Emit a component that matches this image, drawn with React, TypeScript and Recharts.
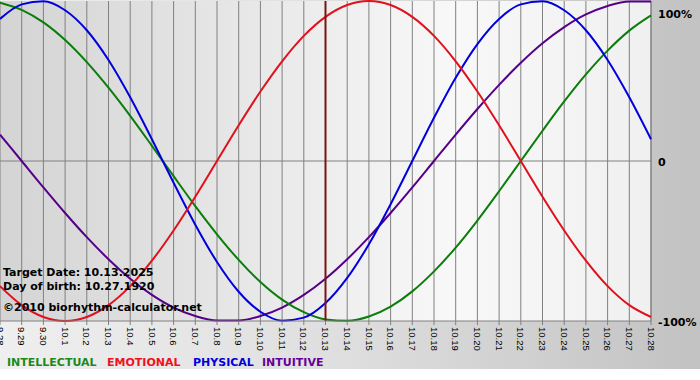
import { LineChart, Line, XAxis, YAxis, CartesianGrid, ReferenceLine } from "recharts";

const days = [
  "9.28", "9.29", "9.30", "10.1", "10.2", "10.3", "10.4", "10.5", "10.6", "10.7", "10.8",
  "10.9", "10.10", "10.11", "10.12", "10.13", "10.14", "10.15", "10.16", "10.17", "10.18",
  "10.19", "10.20", "10.21", "10.22", "10.23", "10.24", "10.25", "10.26", "10.27", "10.28",
];

const physical = [
  0.888, 0.979, 0.998, 0.942, 0.817, 0.631, 0.398, 0.136, -0.136, -0.398, -0.631,
  -0.817, -0.942, -0.998, -0.979, -0.888, -0.731, -0.52, -0.27, 0, 0.27,
  0.52, 0.731, 0.888, 0.979, 0.998, 0.942, 0.817, 0.631, 0.398, 0.136,
];

const emotional = [
  -0.782, -0.901, -0.975, -1, -0.975, -0.901, -0.782, -0.623, -0.434, -0.223, 0,
  0.223, 0.434, 0.623, 0.782, 0.901, 0.975, 1, 0.975, 0.901, 0.782,
  0.623, 0.434, 0.223, 0, -0.223, -0.434, -0.623, -0.782, -0.901, -0.975,
];

const intellectual = [
  0.99, 0.945, 0.866, 0.756, 0.618, 0.458, 0.282, 0.095, -0.095, -0.282, -0.458,
  -0.618, -0.756, -0.866, -0.945, -0.99, -0.999, -0.972, -0.91, -0.815, -0.69,
  -0.541, -0.372, -0.189, 0, 0.189, 0.372, 0.541, 0.69, 0.815, 0.91,
];

const intuitive = [
  0.165, 0, -0.165, -0.325, -0.476, -0.614, -0.736, -0.837, -0.916, -0.969, -0.997,
  -0.997, -0.969, -0.916, -0.837, -0.736, -0.614, -0.476, -0.325, -0.165, 0,
  0.165, 0.325, 0.476, 0.614, 0.736, 0.837, 0.916, 0.969, 0.997, 0.997,
];

const yTicks = [-1, 0, 1];
const targetDay = "10.13";

const data = days.map((day, i) => ({
  day,
  intellectual: intellectual[i],
  emotional: emotional[i],
  physical: physical[i],
  intuitive: intuitive[i],
}));

const FONT = "'DejaVu Sans', Verdana, sans-serif";

const DayTick = ({ x, y, payload }: any) => (
  <text
    transform={`translate(${x},${y}) rotate(90)`}
    textAnchor="start"
    dy="0.35em"
    fontFamily="'Liberation Sans', Arial, sans-serif"
    fontSize={9.5}
    fill="#000"
  >
    {payload.value}
  </text>
);

const PctTick = ({ x, y, payload }: any) => {
  const v = payload.value;
  const label = v === 0 ? "0" : `${v * 100}%`;
  const dy = v === 1 ? 9 : 5;
  return (
    <text x={x} y={y + dy} textAnchor="start" fontFamily={FONT} fontWeight="bold" fontSize={11} fill="#000">
      {label}
    </text>
  );
};

export default function App() {
  return (
    <div
      style={{
        position: "relative",
        width: 700,
        height: 380,
        background: "linear-gradient(to bottom, transparent 369px, #fff 369px), linear-gradient(to right, #efefef 0%, #dedede 50%, #c2c2c2 100%)",
      }}
    >
      <style>{"body{margin:0}"}</style>
      <LineChart width={700} height={380} data={data} margin={{ top: 1, right: 0, left: 0, bottom: 19 }}>
        <defs>
          <linearGradient id="plotBg" x1="0" y1="0" x2="1" y2="0">
            <stop offset="0%" stopColor="#d4d4d4" />
            <stop offset="70%" stopColor="#f8f8f8" />
            <stop offset="100%" stopColor="#f0f0f0" />
          </linearGradient>
        </defs>
        <CartesianGrid horizontal={false} stroke="#808080" fill="url(#plotBg)" fillOpacity={1} />
        <XAxis
          dataKey="day"
          interval={0}
          height={40}
          tickSize={4}
          tickMargin={2}
          stroke="#808080"
          tick={<DayTick />}
        />
        <YAxis
          orientation="right"
          width={49}
          domain={[-1, 1]}
          ticks={yTicks}
          axisLine={false}
          tickLine={false}
          tickSize={0}
          tickMargin={7}
          tick={<PctTick />}
        />
        <ReferenceLine y={0} stroke="#808080" />
        <ReferenceLine x={days[days.length - 1]} stroke="#808080" />
        <Line type="monotone" dataKey="intuitive" stroke="#550088" strokeWidth={2} dot={false} isAnimationActive={false} />
        <Line type="monotone" dataKey="intellectual" stroke="#0a7d0a" strokeWidth={2} dot={false} isAnimationActive={false} />
        <Line type="monotone" dataKey="physical" stroke="#0000dd" strokeWidth={2} dot={false} isAnimationActive={false} />
        <Line type="monotone" dataKey="emotional" stroke="#e0101c" strokeWidth={2} dot={false} isAnimationActive={false} />
        <ReferenceLine x={targetDay} stroke="#7a1414" strokeWidth={2} />
      </LineChart>
      <svg width={700} height={380} style={{ position: "absolute", left: 0, top: 0, pointerEvents: "none" }}>
        <g fontFamily={FONT} fontWeight="bold" fontSize={11} fill="#000">
          <text x={3} y={276}>Target Date: 10.13.2025</text>
          <text x={3} y={290}>Day of birth: 10.27.1920</text>
          <text x={3} y={311}>©2010 biorhythm-calculator.net</text>
        </g>
        <g fontFamily={FONT} fontWeight="bold" fontSize={11}>
          <text x={7} y={366} fill="#1a8a1a">INTELLECTUAL</text>
          <text x={107} y={366} fill="#ee1122">EMOTIONAL</text>
          <text x={193} y={366} fill="#0000dd">PHYSICAL</text>
          <text x={262} y={366} fill="#660099">INTUITIVE</text>
        </g>
      </svg>
    </div>
  );
}
